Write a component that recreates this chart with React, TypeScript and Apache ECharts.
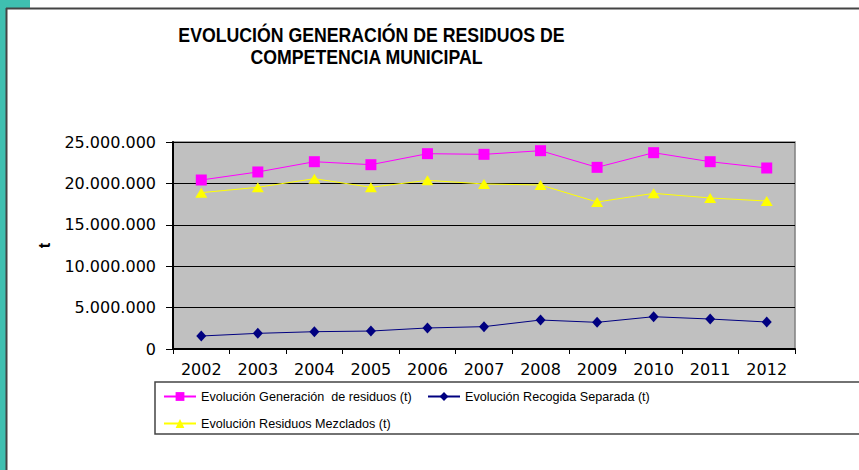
import React, { useEffect, useRef } from "react";
import * as echarts from "echarts";

const years = ["2002", "2003", "2004", "2005", "2006", "2007", "2008", "2009", "2010", "2011", "2012"];
const generacion = [20410000, 21380000, 22620000, 22260000, 23590000, 23510000, 23950000, 21940000, 23710000, 22620000, 21860000];
const recogida = [1570000, 1890000, 2090000, 2170000, 2540000, 2700000, 3500000, 3220000, 3900000, 3620000, 3260000];
const mezclados = [18880000, 19530000, 20570000, 19530000, 20370000, 19930000, 19810000, 17750000, 18800000, 18240000, 17870000];
const seriesNames = [
  "Evolución Generación  de residuos (t)",
  "Evolución Recogida Separada (t)",
  "Evolución Residuos Mezclados (t)",
];
const titleLines = ["EVOLUCIÓN GENERACIÓN DE RESIDUOS DE", "COMPETENCIA MUNICIPAL"];

const fmt = (v: number) => String(Math.round(v)).replace(/\B(?=(\d{3})+(?!\d))/g, ".");

export default function App() {
  const ref = useRef<HTMLDivElement>(null);
  useEffect(() => {
    if (!ref.current) return;
    const chart = echarts.init(ref.current, undefined, { renderer: "svg" });
    const font = "'Liberation Sans', Arial, sans-serif";
    const titleFont = "bold 20px 'Liberation Sans', Arial, sans-serif";
    const legendBase = {
      padding: 0,
      itemWidth: 32,
      itemHeight: 11,
      textStyle: { fontSize: 12.6, color: "#000", fontFamily: font },
    };
    chart.setOption({
      animation: false,
      backgroundColor: "#ffffff",
      textStyle: { fontFamily: font },
      graphic: [
        { type: "rect", shape: { x: 0, y: 0, width: 30, height: 8 }, style: { fill: "#3fbfb0" }, silent: true },
        { type: "rect", shape: { x: 0, y: 0, width: 6, height: 470 }, style: { fill: "#3fbfb0" }, silent: true },
        { type: "line", shape: { x1: 6, y1: 8.5, x2: 859, y2: 8.5 }, style: { stroke: "#444", lineWidth: 2 }, silent: true },
        { type: "line", shape: { x1: 6.5, y1: 8, x2: 6.5, y2: 470 }, style: { stroke: "#444", lineWidth: 2 }, silent: true },
        { type: "rect", shape: { x: 155, y: 382, width: 720, height: 52 }, style: { fill: "none", stroke: "#444", lineWidth: 1.5 }, silent: true },
        {
          type: "text", x: 371.5, y: 35, scaleX: 0.885, silent: true,
          style: { text: titleLines[0], font: titleFont, fill: "#000", textAlign: "center", textVerticalAlign: "middle" },
        },
        {
          type: "text", x: 366.5, y: 57, scaleX: 0.885, silent: true,
          style: { text: titleLines[1], font: titleFont, fill: "#000", textAlign: "center", textVerticalAlign: "middle" },
        },
      ],
      legend: [
        { ...legendBase, data: [seriesNames[0]], left: 163, top: 390 },
        { ...legendBase, data: [seriesNames[1]], left: 427, top: 390 },
        { ...legendBase, data: [seriesNames[2]], left: 163, top: 417 },
      ],
      grid: {
        left: 173,
        right: 64,
        top: 142,
        bottom: 121,
        show: true,
        backgroundColor: "#c0c0c0",
        borderColor: "#808080",
        borderWidth: 1.5,
      },
      xAxis: {
        type: "category",
        data: years,
        boundaryGap: true,
        axisLine: { lineStyle: { color: "#000", width: 2 } },
        axisTick: { show: true, length: 5, lineStyle: { color: "#000" } },
        axisLabel: { fontSize: 16, color: "#000", margin: 12, fontFamily: "'DejaVu Sans', sans-serif" },
      },
      yAxis: {
        type: "value",
        min: 0,
        max: 25000000,
        interval: 5000000,
        name: "t",
        nameLocation: "middle",
        nameRotate: 90,
        nameGap: 121,
        nameTextStyle: { fontSize: 16, fontWeight: "bold", color: "#000" },
        axisLine: { show: true, lineStyle: { color: "#000", width: 2 } },
        axisTick: { show: true, length: 7, lineStyle: { color: "#000" } },
        axisLabel: { fontSize: 16, color: "#000", margin: 17, formatter: fmt, fontFamily: "'DejaVu Sans', sans-serif" },
        splitLine: { show: true, lineStyle: { color: "#000", width: 1 } },
      },
      series: [
        {
          name: seriesNames[0],
          type: "line",
          data: generacion,
          symbol: "rect",
          symbolSize: 11,
          lineStyle: { color: "#ff00ff", width: 1 },
          itemStyle: { color: "#ff00ff" },
        },
        {
          name: seriesNames[1],
          type: "line",
          data: recogida,
          symbol: "diamond",
          symbolSize: [10, 11],
          lineStyle: { color: "#000080", width: 1 },
          itemStyle: { color: "#000080" },
        },
        {
          name: seriesNames[2],
          type: "line",
          data: mezclados,
          symbol: "triangle",
          symbolSize: [12, 10],
          lineStyle: { color: "#ffff00", width: 1 },
          itemStyle: { color: "#ffff00" },
        },
      ],
    });
    return () => chart.dispose();
  }, []);
  return <div ref={ref} style={{ position: "absolute", left: 0, top: 0, width: 859, height: 470 }} />;
}
